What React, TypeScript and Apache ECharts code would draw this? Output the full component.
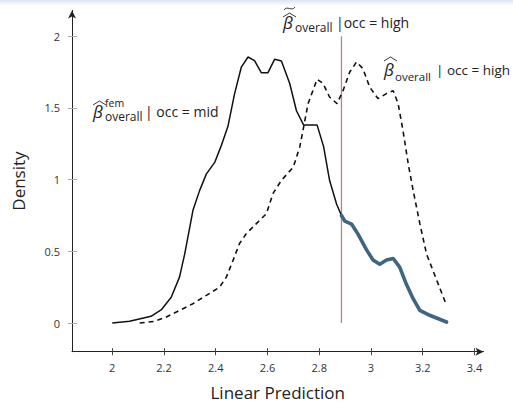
import React, { useEffect, useRef } from "react";
import * as echarts from "echarts";

// ---- data ----
const xTicks = [2, 2.2, 2.4, 2.6, 2.8, 3, 3.2, 3.4];
const yTicks = [0, 0.5, 1, 1.5, 2];

// solid curve: beta_fem_overall | occ = mid
const femMidX = [2.0, 2.067, 2.15, 2.19, 2.228, 2.26, 2.28, 2.3, 2.312, 2.338, 2.364, 2.396, 2.42, 2.447, 2.473, 2.499, 2.525, 2.55, 2.576, 2.602, 2.628, 2.654, 2.686, 2.712, 2.74, 2.792, 2.817, 2.84, 2.867, 2.886];
const femMidY = [0, 0.012, 0.047, 0.093, 0.18, 0.32, 0.48, 0.67, 0.786, 0.925, 1.04, 1.12, 1.23, 1.37, 1.6, 1.785, 1.855, 1.83, 1.746, 1.746, 1.84, 1.827, 1.67, 1.48, 1.38, 1.38, 1.23, 0.995, 0.83, 0.75];

// thick blue continuation (upper tail of the solid curve)
const tailX = [2.886, 2.899, 2.925, 2.95, 2.983, 3.008, 3.034, 3.06, 3.086, 3.111, 3.137, 3.163, 3.189, 3.227, 3.292];
const tailY = [0.75, 0.71, 0.69, 0.62, 0.51, 0.44, 0.41, 0.44, 0.45, 0.39, 0.27, 0.17, 0.088, 0.054, 0.007];

// dashed curve: beta_overall | occ = high
const highX = [2.106, 2.164, 2.209, 2.26, 2.312, 2.364, 2.415, 2.441, 2.467, 2.492, 2.518, 2.557, 2.596, 2.621, 2.654, 2.7, 2.725, 2.737, 2.757, 2.792, 2.815, 2.84, 2.869, 2.892, 2.918, 2.944, 2.969, 2.995, 3.027, 3.06, 3.086, 3.105, 3.124, 3.144, 3.163, 3.189, 3.215, 3.292];
const highY = [0, 0.012, 0.042, 0.088, 0.135, 0.193, 0.25, 0.32, 0.437, 0.554, 0.623, 0.693, 0.763, 0.902, 0.995, 1.088, 1.23, 1.34, 1.53, 1.7, 1.67, 1.576, 1.53, 1.62, 1.75, 1.82, 1.774, 1.646, 1.565, 1.6, 1.62, 1.53, 1.34, 1.11, 0.925, 0.693, 0.48, 0.124];

// vertical reference line (tilde-hat beta_overall | occ = high)
const refX = 2.886;
const refY = [0, 2.0];

const pairs = (xs: number[], ys: number[]) => xs.map((x, i) => [x, ys[i]]);

const FONT = "Open Sans";

function txt(x: number, y: number, text: string, size: number, italic = false) {
  return {
    type: "text",
    x,
    y,
    style: {
      text,
      fontFamily: FONT,
      fontSize: size,
      fontStyle: italic ? "italic" : "normal",
      fill: "#222",
      verticalAlign: "middle",
      align: "left",
    },
  };
}

function hat(x: number, y: number, w: number) {
  return {
    type: "polyline",
    shape: { points: [[x, y + 4], [x + w / 2, y], [x + w, y + 4]] },
    style: { stroke: "#222", lineWidth: 0.9, fill: "none" },
  };
}

export default function App() {
  const ref = useRef<HTMLDivElement>(null);
  useEffect(() => {
    if (!ref.current) return;
    const chart = echarts.init(ref.current, null, { renderer: "svg" });
    const xMin = 1.8445;
    const xMax = 3.435;
    const yMin = -0.2;
    const yMax = 2.18;
    chart.setOption({
      animation: false,
      backgroundColor: "#fff",
      grid: { left: 72, right: 29.5, top: 10.4, bottom: 52.3, containLabel: false, outerBoundsMode: "none" },
      xAxis: [
        {
          type: "value",
          min: xMin,
          max: xMax,
          position: "bottom",
          splitLine: { show: false },
          axisLine: {
            show: true,
            onZero: false,
            symbol: ["none", "arrow"],
            symbolSize: [6, 8],
            lineStyle: { color: "#222", width: 1 },
          },
          axisTick: { show: true, customValues: xTicks, length: 3.5, inside: false, lineStyle: { color: "#444" } },
          axisLabel: { customValues: xTicks, margin: 10, fontSize: 11, color: "#333", fontFamily: FONT },
          name: "Linear Prediction",
          nameLocation: "middle",
          nameGap: 32,
          nameTextStyle: { fontSize: 17, color: "#222", fontFamily: FONT },
        },
        {
          type: "value",
          min: xMin,
          max: xMax,
          position: "bottom",
          splitLine: { show: false },
          axisLine: { show: false, onZero: false },
          axisTick: { show: true, customValues: xTicks, length: 3.5, inside: true, lineStyle: { color: "#444" } },
          axisLabel: { show: false },
        },
      ],
      yAxis: [
        {
          type: "value",
          min: yMin,
          max: yMax,
          position: "left",
          splitLine: { show: false },
          axisLine: {
            show: true,
            onZero: false,
            symbol: ["none", "arrow"],
            symbolSize: [6, 8],
            lineStyle: { color: "#222", width: 1 },
          },
          axisTick: { show: true, customValues: yTicks, length: 4, inside: false, lineStyle: { color: "#aaa" } },
          axisLabel: { customValues: yTicks, margin: 12, fontSize: 11, color: "#333", fontFamily: FONT },
          name: "Density",
          nameLocation: "middle",
          nameGap: 45,
          nameTextStyle: { fontSize: 17, color: "#222", fontFamily: FONT },
        },
        {
          type: "value",
          min: yMin,
          max: yMax,
          position: "left",
          splitLine: { show: false },
          axisLine: { show: false, onZero: false },
          axisTick: { show: true, customValues: yTicks, length: 5, inside: true, lineStyle: { color: "#aaa" } },
          axisLabel: { show: false },
        },
      ],
      series: [
        {
          type: "line",
          data: [[refX, refY[0]], [refX, refY[1]]],
          symbol: "none",
          lineStyle: { color: "#b9847c", width: 1.3 },
          z: 1,
        },
        {
          type: "line",
          data: pairs(highX, highY),
          symbol: "none",
          lineStyle: { color: "#111", width: 1.6, type: [5, 4] },
          z: 2,
        },
        {
          type: "line",
          data: pairs(femMidX, femMidY),
          symbol: "none",
          lineStyle: { color: "#111", width: 1.5 },
          z: 3,
        },
        {
          type: "line",
          data: pairs(tailX, tailY),
          symbol: "none",
          lineStyle: { color: "#3f6580", width: 3.6, cap: "round", join: "round" },
          z: 4,
        },
      ],
      graphic: [
        {
          type: "rect",
          shape: { x: 0, y: 0, width: 513, height: 6 },
          style: {
            fill: new echarts.graphic.LinearGradient(0, 0, 0, 1, [
              { offset: 0, color: "#dfe5ee" },
              { offset: 1, color: "#ffffff" },
            ]),
          },
          silent: true,
        },
        // top annotation
        txt(283, 22, "β", 17, true),
        hat(283, 13, 13),
        {
          type: "bezierCurve",
          shape: { x1: 284, y1: 10, cpx1: 287, cpy1: 5, cpx2: 292, cpy2: 12, x2: 295, y2: 7 },
          style: { stroke: "#222", lineWidth: 0.9, fill: "none" },
        },
        txt(295, 27.5, "overall", 12),
        txt(336, 22, "|occ = high", 14),
        // right annotation
        txt(384, 69, "β", 17, true),
        hat(384, 57, 13),
        txt(395, 76, "overall", 11.5),
        txt(436, 70, "| occ = high", 13.5),
        // left annotation
        txt(93, 111, "β", 17, true),
        hat(93, 101, 13),
        txt(105, 102.5, "fem", 10.5),
        txt(105, 116.5, "overall", 12),
        txt(145, 111, "| occ = mid", 14),
      ],
    });
    return () => chart.dispose();
  }, []);
  return (
    <div
      ref={ref}
      style={{ position: "fixed", left: 0, top: 0, width: 513, height: 404 }}
    />
  );
}
